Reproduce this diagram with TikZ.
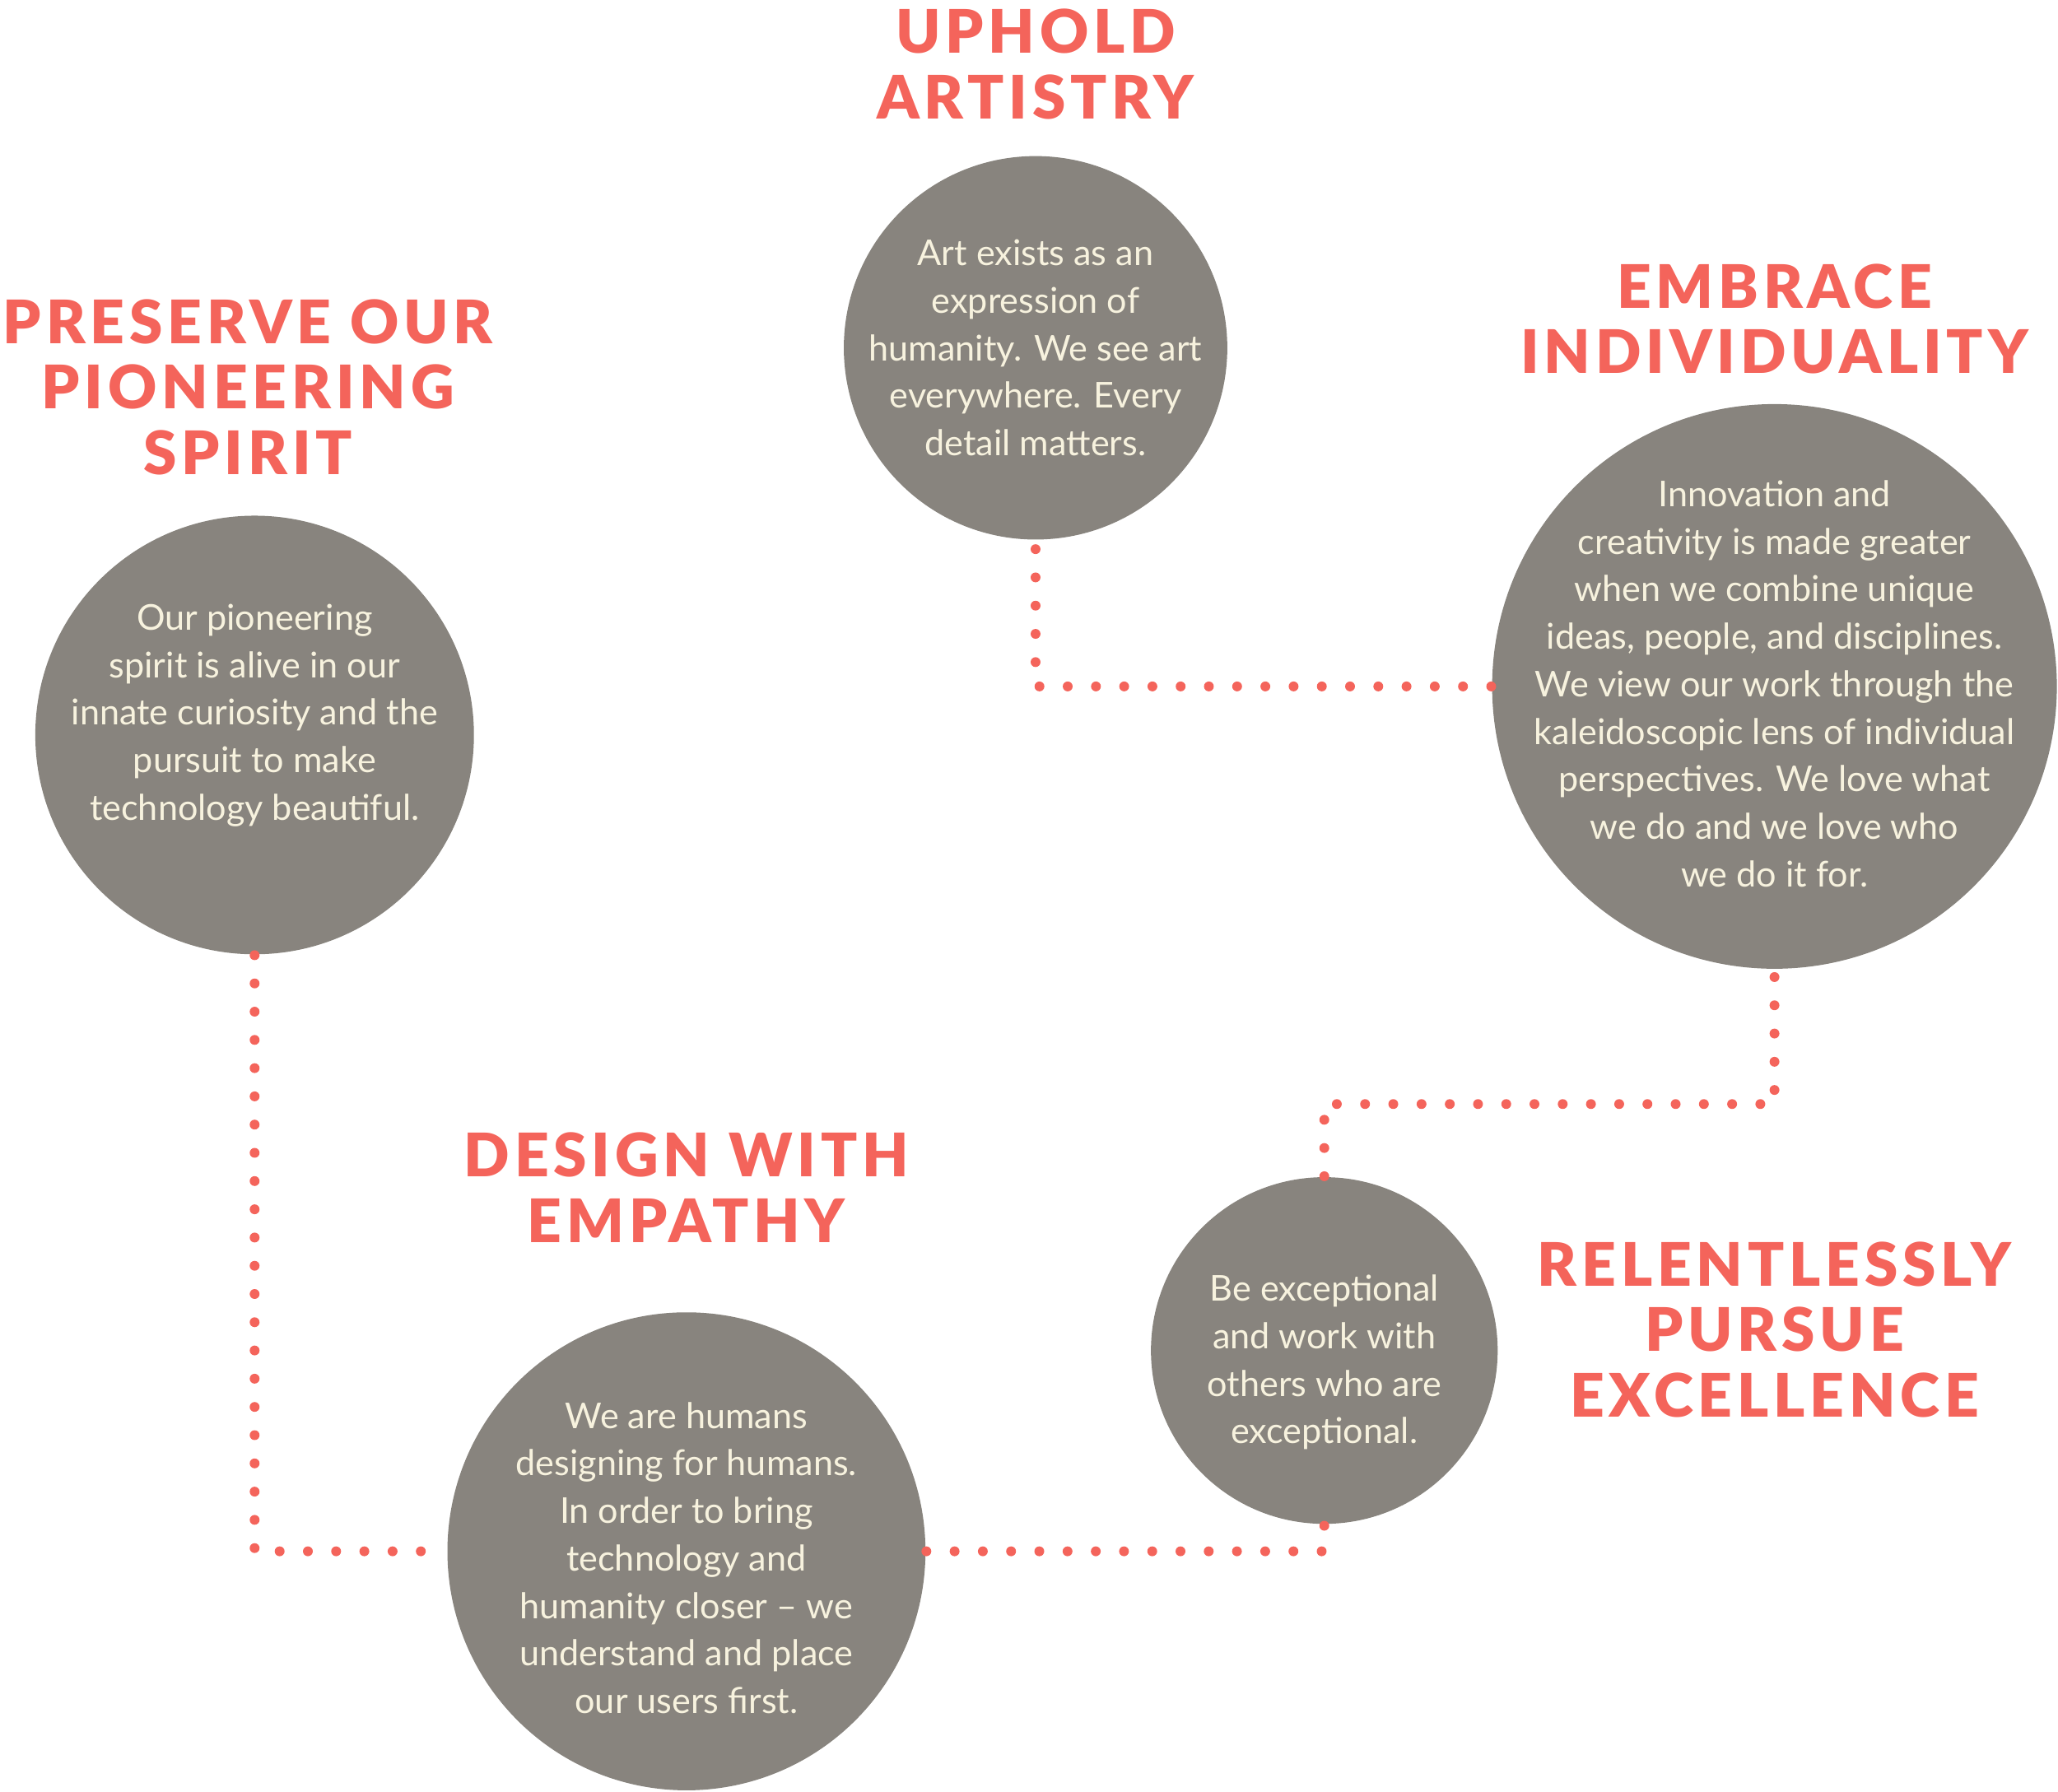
\documentclass[tikz,border=0pt]{standalone}
\usepackage{fontspec}
\setmainfont{Lato}
\newfontfamily\headfont[LetterSpace=8]{Lato Black}
\usetikzlibrary{positioning}
\definecolor{coral}{HTML}{F4645B}
\definecolor{stone}{HTML}{88847E}
\definecolor{cream}{HTML}{F7F2DE}
\tikzset{
  value/.style={circle, fill=stone, inner sep=0pt},
  body/.style={text=cream, align=center, inner sep=0pt,
    font=\fontsize{7.7}{10.3}\selectfont},
  title/.style={text=coral, align=center, font=\headfont\fontsize{13}{14.2}\selectfont},
  dots/.style={coral, line width=0.075cm, line cap=round, dash pattern=on 0pt off 0.215cm}
}
\begin{document}
\begin{tikzpicture}[x=0.01cm, y=-0.01cm]
\useasboundingbox (0,0) rectangle (1568,1365);

% circles
\node[value, minimum size=3.34cm] (pio) at (194,560) {};
\node[value, minimum size=2.92cm] (art) at (789,265) {};
\node[value, minimum size=4.30cm] (ind) at (1352,523) {};
\node[value, minimum size=3.64cm] (emp) at (523,1182) {};
\node[value, minimum size=2.64cm] (exc) at (1009,1029) {};

% texts in the circles
\node[body] (bpio) at (194,545) {Our pioneering\\spirit is alive in our\\innate curiosity and the\\pursuit to make\\technology beautiful.};
\node[body] (bart) at (789,265) {Art exists as an\\expression of\\humanity. We see art\\everywhere. Every\\detail matters.};
\node[body] (bind) at (1352,521) {Innovation and\\creativity is made greater\\when we combine unique\\ideas, people, and disciplines.\\We view our work through the\\kaleidoscopic lens of individual\\perspectives. We love what\\we do and we love who\\we do it for.};
\node[body] (bemp) at (523,1187) {We are humans\\designing for humans.\\In order to bring\\technology and\\humanity closer -- we\\understand and place\\our users first.};
\node[body] (bexc) at (1009,1038) {Be exceptional\\and work with\\others who are\\exceptional.};

% titles
\node[title] (tpio) at (189,295) {PRESERVE OUR\\PIONEERING\\SPIRIT};
\node[title] (tart) at (789,49) {UPHOLD\\ARTISTRY};
\node[title] (tind) at (1352,243) {EMBRACE\\INDIVIDUALITY};
\node[title] (temp) at (523,905) {DESIGN WITH\\EMPATHY};
\node[title] (texc) at (1352,1013) {RELENTLESSLY\\PURSUE\\EXCELLENCE};

% dotted links
\draw[dots] (pio.south) |- (emp.west);
\draw[dots] (emp.east) -| (exc.south);
\draw[dots] (exc.north) -- ++(0,-55) -| (ind.south);
\draw[dots] (ind.west) -| (art.south);
\end{tikzpicture}
\end{document}
